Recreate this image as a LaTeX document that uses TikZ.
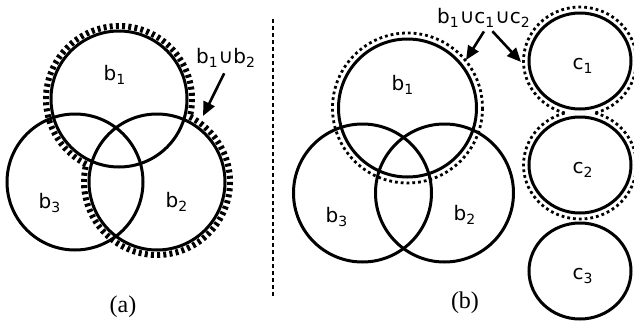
\documentclass[tikz,border=0pt]{standalone}
\usepackage{fontspec}
\setmainfont{Liberation Serif}
\newfontfamily\setfont{DejaVu Sans}
\usepackage{tikz}
\usetikzlibrary{arrows.meta,positioning,calc}

\begin{document}
\begin{tikzpicture}[x=0.5pt,y=-0.5pt,
		set/.style={line width=1.5pt},
		setlbl/.style={font=\setfont\fontsize{10}{12}\selectfont, inner sep=1pt},
		captxt/.style={font=\fontsize{12}{14}\selectfont},
		uniona/.style={line width=3pt, dash pattern=on 1.5pt off 1.6pt},
		unionb/.style={line width=1.4pt, dash pattern=on 1.4pt off 1.5pt},
		sepline/.style={line width=1.2pt, dash pattern=on 2pt off 1.5pt},
		ptr/.style={line width=1.3pt, -{Triangle[length=7pt,width=6pt]}}]
		\useasboundingbox (0,0) rectangle (634,327);

		% panel (a)
		\coordinate (a-o1) at (119,99);
		\coordinate (a-o2) at (157,182);
		\coordinate (a-o3) at (75,182);
		\draw[set] (a-o1) circle[radius=68];
		\draw[set] (a-o2) circle[radius=68];
		\draw[set] (a-o3) circle[radius=68];
		\node[setlbl] (a-b1) at (115,75) {b\textsubscript{1}};
		\node[setlbl] (a-b2) at (177,202) {b\textsubscript{2}};
		\node[setlbl] (a-b3) at (50,203) {b\textsubscript{3}};
		\draw[uniona] (a-o1) ++(116.7:73) arc[start angle=116.7, end angle=374.1, radius=73];
		\draw[uniona] (a-o2) ++(-63.3:73) arc[start angle=-63.3, end angle=194.1, radius=73];
		\node[setlbl] (a-u) at (226,58) {b\textsubscript{1}∪b\textsubscript{2}};
		\coordinate (a-tip) at (203,116);
		\draw[ptr, shorten <=2pt] (a-u.south) -- (a-tip);
		\node[captxt] (a-cap) at (123,307) {(a)};

		\coordinate (sep-top) at (273,19);
		\coordinate (sep-bot) at (273,298);
		\draw[sepline] (sep-top) -- (sep-bot);

		% panel (b)
		\coordinate (b-o1) at (407.5,108);
		\coordinate (b-o2) at (444.5,193);
		\coordinate (b-o3) at (362.5,193);
		\draw[set] (b-o1) circle[radius=69];
		\draw[set] (b-o2) circle[radius=69];
		\draw[set] (b-o3) circle[radius=69];
		\node[setlbl] (b-b1) at (403,85) {b\textsubscript{1}};
		\node[setlbl] (b-b2) at (465,215) {b\textsubscript{2}};
		\node[setlbl] (b-b3) at (337,217) {b\textsubscript{3}};
		\draw[unionb] (b-o1) circle[radius=75];

		\foreach \n/\y in {1/61,2/165,3/271} {
			\coordinate (b-q\n) at (580,\y);
			\draw[set] (b-q\n) ellipse[x radius=51, y radius=48];
			\node[setlbl] (b-c\n) at (583,\y+5) {c\textsubscript{\n}};
		}
		\draw[unionb] (b-q1) ++(105.6:56.5 and 54) arc[start angle=105.6, end angle=434.4, x radius=56.5, y radius=54];
		\draw[unionb] (b-q2) ++(-74.4:56.5 and 54) arc[start angle=-74.4, end angle=254.4, x radius=56.5, y radius=54];

		\node[setlbl] (b-u) at (484,18) {b\textsubscript{1}∪c\textsubscript{1}∪c\textsubscript{2}};
		\coordinate (b-tip1) at (466,60);
		\coordinate (b-tip2) at (521,62);
		\draw[ptr, shorten <=1pt] ([xshift=0.5pt]b-u.south) -- (b-tip1);
		\draw[ptr, shorten <=1pt] ([xshift=3.5pt]b-u.south) -- (b-tip2);
		\node[captxt] (b-cap) at (465,303) {(b)};
	\end{tikzpicture}
\end{document}
